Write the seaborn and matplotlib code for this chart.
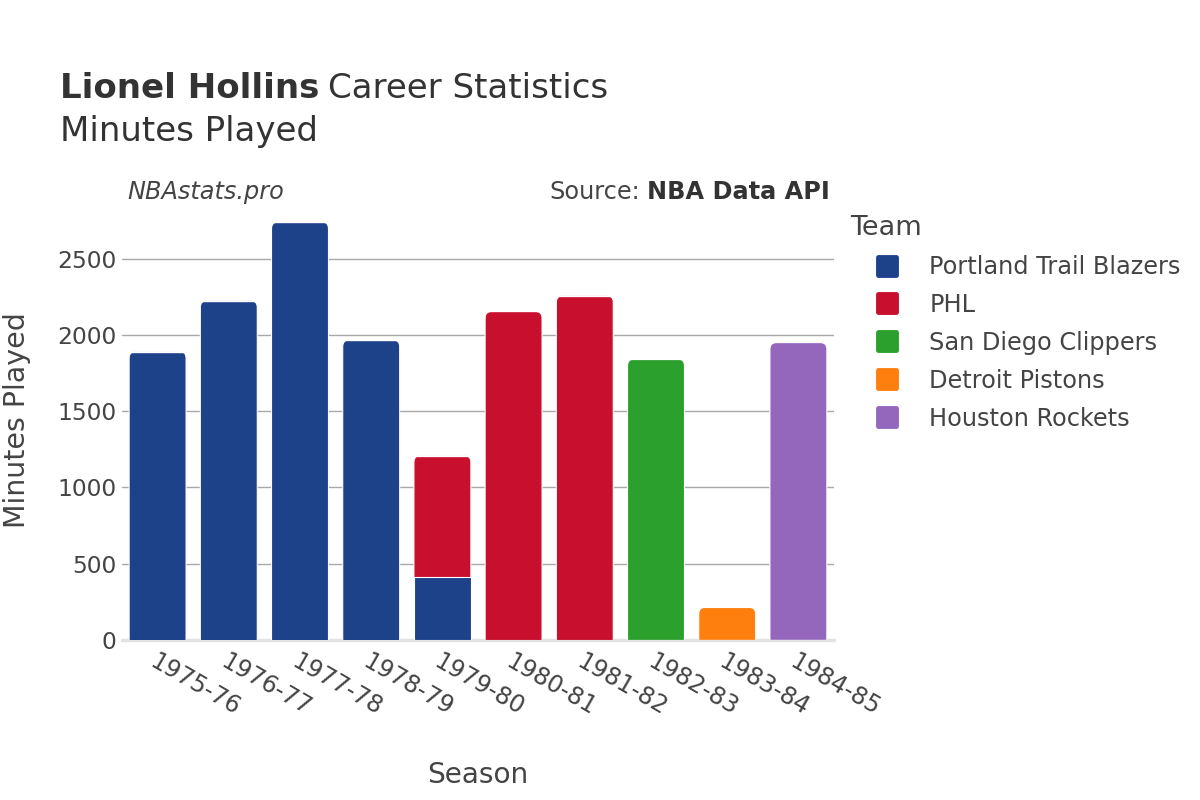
import matplotlib
matplotlib.use("Agg")
import matplotlib.pyplot as plt
from matplotlib.patches import FancyBboxPatch, Rectangle
from matplotlib.lines import Line2D
from matplotlib.markers import MarkerStyle
import seaborn as sns
import numpy as np

seasons = ["1975-76", "1976-77", "1977-78", "1978-79", "1979-80",
           "1980-81", "1981-82", "1982-83", "1983-84", "1984-85"]
teams = ["Portland Trail Blazers", "PHL", "San Diego Clippers",
         "Detroit Pistons", "Houston Rockets"]
portland = [1891, 2224, 2741, 1967, 413, 0, 0, 0, 0, 0]
phl = [0, 0, 0, 0, 796, 2154, 2257, 0, 0, 0]
san_diego = [0, 0, 0, 0, 0, 0, 0, 1842, 0, 0]
detroit = [0, 0, 0, 0, 0, 0, 0, 0, 214, 0]
houston = [0, 0, 0, 0, 0, 0, 0, 0, 0, 1950]
team_values = [portland, phl, san_diego, detroit, houston]
team_colors = ["#1d428a", "#c8102e", "#2ca02c", "#ff7f0e", "#9467bd"]
y_ticks = [0, 500, 1000, 1500, 2000, 2500]

TXT = "#444444"
sns.set_theme(style="white")
plt.rcParams["font.family"] = ["DejaVu Sans"]

fig = plt.figure(figsize=(12, 8), dpi=100)
ax = fig.add_axes([122 / 1200, 0.2, (834 - 122) / 1200, 440 / 800])

bottom = np.zeros(len(seasons))
for team, vals, col in zip(teams, team_values, team_colors):
    sns.barplot(x=seasons, y=vals, order=seasons, color=col, width=0.8,
                bottom=bottom.copy(), edgecolor="white", linewidth=0.8,
                saturation=1, ax=ax, zorder=2)
    bottom += np.array(vals)

ax.set_xlim(-0.5, len(seasons) - 0.5)
ax.set_ylim(0, 2885)
ax.set_yticks(y_ticks)
ax.set_yticklabels([str(v) for v in y_ticks])
ax.yaxis.grid(True, color="#a8a8a8", linewidth=1)
ax.xaxis.grid(False)
ax.set_axisbelow(True)
for s in ax.spines.values():
    s.set_visible(False)
ax.axhline(0, color="#e2e2e2", linewidth=2.5, zorder=1.5, clip_on=False)

# rounded top corners for top segments
fig.canvas.draw()
px_x = ax.transData.transform((1, 0))[0] - ax.transData.transform((0, 0))[0]
px_y = ax.transData.transform((0, 1))[1] - ax.transData.transform((0, 0))[1]
aspect = px_x / px_y
r_x = 6.5 / px_x
r_y = r_x * aspect
rects = [p for p in ax.patches if isinstance(p, Rectangle) and p.get_height() > 0]
tops = {}
for p in rects:
    cx = round(p.get_x() + p.get_width() / 2, 3)
    top = p.get_y() + p.get_height()
    if cx not in tops or top > tops[cx][0]:
        tops[cx] = (top, p)
for cx, (top, p) in tops.items():
    x0, y0, w, h = p.get_x(), p.get_y(), p.get_width(), p.get_height()
    fb = FancyBboxPatch((x0, y0 - r_y), w, h + r_y,
                        boxstyle=f"round,pad=0,rounding_size={r_x}",
                        mutation_aspect=aspect, facecolor=p.get_facecolor(),
                        edgecolor="white", linewidth=0.8, zorder=1.8)
    p.remove()
    ax.add_patch(fb)

ax.tick_params(axis="y", length=0, pad=4, labelsize=16.8, labelcolor=TXT)
ax.tick_params(axis="x", length=0, pad=7, labelsize=17.2, labelcolor=TXT)
for lab in ax.get_xticklabels():
    lab.set_rotation(-30)
    lab.set_ha("left")
    lab.set_va("top")
    lab.set_rotation_mode("anchor")
ax.set_xlabel("Season", fontsize=20.2, color=TXT, labelpad=0)
ax.set_ylabel("Minutes Played", fontsize=20.5, color=TXT)
ax.xaxis.set_label_coords(0.5, -0.275)
ax.yaxis.set_label_coords(-0.128, 0.5)

# titles
t1 = fig.text(60 / 1200, 1 - 88 / 800, "Lionel Hollins", fontsize=24.5,
              fontweight="bold", color="#333333", va="center", ha="left")
fig.canvas.draw()
bb = t1.get_window_extent()
fig.text(bb.x1 / 1200 + 9 / 1200, 1 - 88 / 800, "Career Statistics", fontsize=24.5,
         color="#333333", va="center", ha="left")
fig.text(60 / 1200, 1 - 132 / 800, "Minutes Played", fontsize=24.5,
         color="#333333", va="center", ha="left")
fig.text(127 / 1200, 1 - 192 / 800, "NBAstats.pro", fontsize=17.3,
         style="italic", color=TXT, va="center", ha="left")
t2 = fig.text(830 / 1200, 1 - 192 / 800, "NBA Data API", fontsize=17.3,
              fontweight="bold", color="#333333", va="center", ha="right")
fig.canvas.draw()
bb2 = t2.get_window_extent()
fig.text(bb2.x0 / 1200 - 7 / 1200, 1 - 192 / 800, "Source:", fontsize=17.3,
         color=TXT, va="center", ha="right")

# legend
mk = MarkerStyle("s", joinstyle="round")
handles = [Line2D([0], [0], marker=mk, linestyle="none", markersize=12.5,
                  markeredgewidth=3.5, markerfacecolor=c, markeredgecolor=c)
           for c in team_colors]
leg = fig.legend(handles, teams, loc="upper left",
                 bbox_to_anchor=(850 / 1200, 1 - 215 / 800), frameon=False,
                 title="Team", title_fontsize=19.5, fontsize=17.3,
                 labelspacing=0.58, handletextpad=0.2, handlelength=3.1,
                 alignment="left", borderaxespad=0, borderpad=0)
leg.get_title().set_color(TXT)
for t in leg.get_texts():
    t.set_color(TXT)

fig.savefig("out.png", dpi=100)
